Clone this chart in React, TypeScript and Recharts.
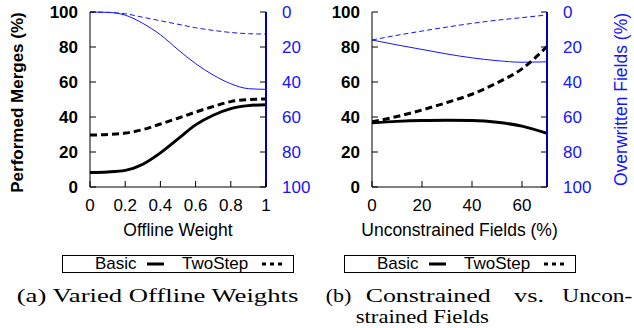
import React from "react";
import { LineChart, Line, XAxis, YAxis, Label } from "recharts";

// (a) offline weight sweep
const offlineWeights = [0, 0.1, 0.2, 0.3, 0.4, 0.5, 0.6, 0.7, 0.8, 0.9, 1];
const basicMergesA = [8.3, 8.6, 9.5, 13, 19.5, 27.5, 35.5, 41, 44.8, 46.5, 47];
const twoStepMergesA = [29.7, 30, 30.8, 32.8, 36, 39.3, 42.8, 46, 48.8, 50, 50.3];
const basicOverwrittenA = [0, 0.2, 1.8, 6.5, 13, 21.5, 29.5, 36, 41, 43.8, 44.2];
const twoStepOverwrittenA = [0, 0.2, 1, 3, 5, 7, 9, 10.5, 11.7, 12.4, 12.6];

// (b) unconstrained fields sweep
const unconstrainedPct = [0, 10, 20, 30, 40, 50, 60, 70];
const basicMergesB = [36.7, 37.5, 38, 38.2, 38, 37, 34.8, 30.7];
const twoStepMergesB = [37.2, 40.3, 44, 48.3, 53, 59.5, 67.5, 80.3];
const basicOverwrittenB = [16, 18.8, 21.4, 24, 26.2, 27.8, 28.7, 28.5];
const twoStepOverwrittenB = [16, 13.3, 10.9, 8.6, 6.5, 4.7, 3.2, 1.7];

const xTicksA = [0, 0.2, 0.4, 0.6, 0.8, 1];
const xTicksB = [0, 20, 40, 60];
const yTicks = [0, 20, 40, 60, 80, 100];

const seriesNames = ["Basic", "TwoStep"];

const BLUE = "#1414ff";
const SANS = "'Liberation Sans', Arial, Helvetica, sans-serif";
const SERIF = "'Liberation Serif', 'Times New Roman', serif";

const CHART_W = 317;
const PLOT_TOP = 12;
const PLOT_BOTTOM = 187;
const TICK = 6;

const rowsA = offlineWeights.map((x, i) => ({
  x,
  basic: basicMergesA[i],
  twoStep: twoStepMergesA[i],
  basicOver: basicOverwrittenA[i],
  twoStepOver: twoStepOverwrittenA[i],
}));

const rowsB = unconstrainedPct.map((x, i) => ({
  x,
  basic: basicMergesB[i],
  twoStep: twoStepMergesB[i],
  basicOver: basicOverwrittenB[i],
  twoStepOver: twoStepOverwrittenB[i],
}));

type Row = (typeof rowsA)[number];

interface PanelProps {
  data: Row[];
  xDomain: [number, number];
  xTicks: number[];
  xTitle: string;
  leftWidth: number;
  rightWidth: number;
  leftTitle?: string;
  rightTitle?: string;
}

// ticks point inward, like gnuplot
function BottomTick({ x, payload }: any) {
  return (
    <g>
      <line x1={x} x2={x} y1={PLOT_BOTTOM} y2={PLOT_BOTTOM - TICK} stroke="#000" />
      <text x={x} y={211} textAnchor="middle" fontSize={17} fontFamily={SANS} fill="#000">
        {payload.value}
      </text>
    </g>
  );
}

function TopTick({ x }: any) {
  return <line x1={x} x2={x} y1={PLOT_TOP} y2={PLOT_TOP + TICK} stroke="#000" />;
}

function Panel({ data, xDomain, xTicks, xTitle, leftWidth, rightWidth, leftTitle, rightTitle }: PanelProps) {
  const rightX = CHART_W - rightWidth;

  const LeftTick = ({ y, payload }: any) => (
    <g>
      <line x1={leftWidth} x2={leftWidth + TICK} y1={y} y2={y} stroke="#000" />
      <text x={leftWidth - 12} y={y + 6} textAnchor="end" fontSize={17} fontWeight="bold" fontFamily={SANS} fill="#000">
        {payload.value}
      </text>
    </g>
  );

  const RightTick = ({ y, payload }: any) => (
    <g>
      <line x1={rightX} x2={rightX - TICK} y1={y} y2={y} stroke="#000" />
      <text x={rightX + 16} y={y + 6} textAnchor="start" fontSize={17} fontFamily={SANS} fill={BLUE}>
        {payload.value}
      </text>
    </g>
  );

  return (
    <LineChart width={CHART_W} height={245} data={data} margin={{ top: PLOT_TOP, right: 0, left: 0, bottom: 8 }}>
      <XAxis
        dataKey="x"
        type="number"
        domain={xDomain}
        ticks={xTicks}
        allowDataOverflow
        height={50}
        tickLine={false}
        axisLine={{ stroke: "#000" }}
        tick={<BottomTick />}
      >
        <Label
          content={({ viewBox }: any) => (
            <text
              x={viewBox.x + viewBox.width / 2}
              y={viewBox.y + 49}
              textAnchor="middle"
              fontSize={17.5}
              fontFamily={SANS}
              fill="#000"
            >
              {xTitle}
            </text>
          )}
        />
      </XAxis>
      <XAxis
        xAxisId="top"
        orientation="top"
        type="number"
        domain={xDomain}
        ticks={xTicks}
        allowDataOverflow
        height={0}
        tickLine={false}
        axisLine={{ stroke: "#000" }}
        tick={<TopTick />}
      />
      <YAxis
        yAxisId="left"
        domain={[0, 100]}
        ticks={yTicks}
        width={leftWidth}
        tickLine={false}
        axisLine={{ stroke: "#000" }}
        tick={<LeftTick />}
      >
        {leftTitle && (
          <Label
            content={({ viewBox }: any) => {
              const cx = 17.5;
              const cy = viewBox.y + viewBox.height / 2 + 3;
              return (
                <text
                  x={cx}
                  y={cy}
                  transform={`rotate(-90, ${cx}, ${cy})`}
                  textAnchor="middle"
                  dominantBaseline="central"
                  fontSize={17}
                  fontWeight="bold"
                  fontFamily={SANS}
                  fill="#000"
                >
                  {leftTitle}
                </text>
              );
            }}
          />
        )}
      </YAxis>
      <YAxis
        yAxisId="right"
        orientation="right"
        reversed
        domain={[0, 100]}
        ticks={yTicks}
        width={rightWidth}
        tickLine={false}
        axisLine={{ stroke: "#0000b4", strokeWidth: 2 }}
        tick={<RightTick />}
      >
        {rightTitle && (
          <Label
            content={({ viewBox }: any) => {
              const cx = viewBox.x + 74;
              const cy = viewBox.y + viewBox.height / 2;
              return (
                <text
                  x={cx}
                  y={cy}
                  transform={`rotate(-90, ${cx}, ${cy})`}
                  textAnchor="middle"
                  dominantBaseline="central"
                  fontSize={17.5}
                  fontFamily={SANS}
                  fill={BLUE}
                >
                  {rightTitle}
                </text>
              );
            }}
          />
        )}
      </YAxis>
      <Line yAxisId="right" type="monotone" dataKey="basicOver" stroke={BLUE} strokeWidth={1} dot={false} activeDot={false} isAnimationActive={false} />
      <Line yAxisId="right" type="monotone" dataKey="twoStepOver" stroke={BLUE} strokeWidth={1} strokeDasharray="5 3" dot={false} activeDot={false} isAnimationActive={false} />
      <Line yAxisId="left" type="monotone" dataKey="basic" stroke="#000" strokeWidth={3} dot={false} activeDot={false} isAnimationActive={false} />
      <Line yAxisId="left" type="monotone" dataKey="twoStep" stroke="#000" strokeWidth={3} strokeDasharray="7 4" dot={false} activeDot={false} isAnimationActive={false} />
    </LineChart>
  );
}

function LegendBox({ left }: { left: number }) {
  return (
    <g transform={`translate(${left}, 0)`}>
      <rect x={0.5} y={255.5} width={231} height={17} fill="#fff" stroke="#000" strokeWidth={1} />
      <text x={33} y={269} fontSize={17} fontFamily={SANS} fill="#000">{seriesNames[0]}</text>
      <line x1={85} x2={102} y1={264} y2={264} stroke="#000" strokeWidth={3} />
      <text x={120} y={269} fontSize={17} fontFamily={SANS} fill="#000">{seriesNames[1]}</text>
      <line x1={200} x2={221} y1={264} y2={264} stroke="#000" strokeWidth={3} strokeDasharray="4 4" />
    </g>
  );
}

export default function App() {
  return (
    <div style={{ position: "fixed", left: 0, top: 0, width: 634, height: 328, background: "#fff", overflow: "hidden" }}>
      <div style={{ position: "absolute", left: 0, top: 0 }}>
        <Panel
          data={rowsA}
          xDomain={[0, 1]}
          xTicks={xTicksA}
          xTitle="Offline Weight"
          leftWidth={90}
          rightWidth={51}
          leftTitle="Performed Merges (%)"
        />
      </div>
      <div style={{ position: "absolute", left: 317, top: 0 }}>
        <Panel
          data={rowsB}
          xDomain={[0, 70]}
          xTicks={xTicksB}
          xTitle="Unconstrained Fields (%)"
          leftWidth={55}
          rightWidth={87}
          rightTitle="Overwritten Fields (%)"
        />
      </div>
      <svg width={634} height={328} style={{ position: "absolute", left: 0, top: 0, pointerEvents: "none" }}>
        <LegendBox left={62} />
        <LegendBox left={344} />
        <g fontFamily={SERIF} fontSize={19} fill="#000">
          <text x={16.7} y={302} textLength={281.6} lengthAdjust="spacingAndGlyphs">(a) Varied Offline Weights</text>
          <text x={325.7} y={302} textLength={25.6} lengthAdjust="spacingAndGlyphs">(b)</text>
          <text x={365.7} y={302} textLength={125} lengthAdjust="spacingAndGlyphs">Constrained</text>
          <text x={514} y={302} textLength={30} lengthAdjust="spacingAndGlyphs">vs.</text>
          <text x={562.3} y={302} textLength={70} lengthAdjust="spacingAndGlyphs">Uncon-</text>
          <text x={355.7} y={323} textLength={133.3} lengthAdjust="spacingAndGlyphs">strained Fields</text>
        </g>
      </svg>
    </div>
  );
}
